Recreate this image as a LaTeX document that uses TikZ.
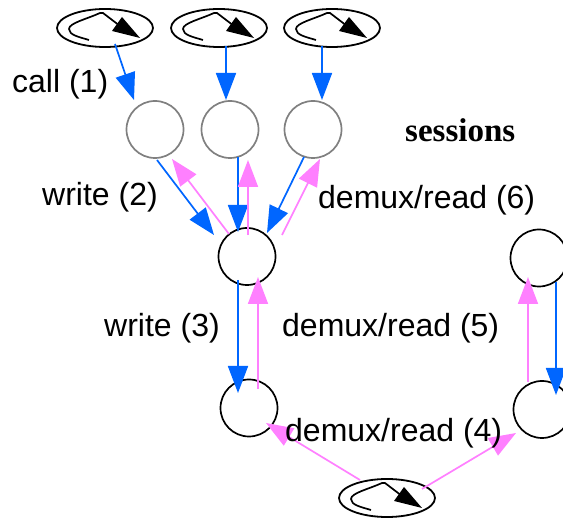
\documentclass[tikz,border=0pt]{standalone}
\usepackage{fontspec}
\setmainfont{Liberation Sans}
\newfontfamily\sessfont{Liberation Serif}
\usetikzlibrary{arrows.meta,shapes.geometric}
\definecolor{flowblue}{HTML}{0066FF}
\definecolor{flowpink}{HTML}{FF80FF}
\tikzset{
  x=1pt,y=-1pt,
  sess/.style={circle,draw=gray,line width=1.7pt,minimum size=57pt,inner sep=0pt},
  sock/.style={circle,draw=black,line width=1.7pt,minimum size=57pt,inner sep=0pt},
  proc/.style={ellipse,draw=black,line width=1.8pt,minimum width=96pt,minimum height=38pt,inner sep=0pt},
  lbl/.style={font=\fontsize{32}{36}\selectfont,inner sep=0pt},
  bluearr/.style={draw=flowblue,line width=1.7pt,-{Triangle[length=27pt,width=20pt,fill=flowblue]}},
  pinkarr/.style={draw=flowpink,line width=1.7pt,-{Triangle[length=27pt,width=20pt,fill=flowpink]}},
  loopmark/.pic={
    \draw[line width=1.7pt,line join=round] (-16,12) .. controls (-26,9) and (-36,7) .. (-36,1) .. controls (-36,-5) and (-18,-9) .. (-5,-15) -- (-2,-15) -- (15,-2);
    \fill (35,10) -- (7,3) -- (12,-4) -- (17,-11) -- cycle;
  }
}
\begin{document}
\begin{tikzpicture}
\useasboundingbox (0,0) rectangle (563,521);
\clip (0,0) rectangle (563,521);
\fill[white] (0,0) rectangle (563,521);
% nodes
\node[proc] (e1) at (105,28) {};
\node[proc] (e2) at (219,28) {};
\node[proc] (e3) at (332,28) {};
\node[proc] (e4) at (387,498) {};
\pic at (e1.center) {loopmark};
\pic at (e2.center) {loopmark};
\pic at (e3.center) {loopmark};
\pic at (e4.center) {loopmark};
\node[sess] (s1) at (155,129.5) {};
\node[sess] (s2) at (230,129.5) {};
\node[sess] (s3) at (313,129.5) {};
\node[sock] (c) at (247,256.5) {};
\node[sock] (bl) at (249,408) {};
\node[sock] (tr) at (539,258) {};
\node[sock] (br) at (542,409.5) {};
% connectors
\draw[bluearr] ([shift={(10,16)}]e1.center) -- ([shift={(-21,-29.5)}]s1.center);
\draw[bluearr] ([shift={(7,18)}]e2.center) -- ([shift={(-4,-29.5)}]s2.center);
\draw[bluearr] ([shift={(-10,18)}]e3.center) -- ([shift={(9,-29.5)}]s3.center);
\draw[bluearr] ([shift={(2,30.5)}]s1.center) -- ([shift={(-33,-21.5)}]c.center);
\draw[pinkarr] ([shift={(-18,-22.5)}]c.center) -- ([shift={(17,29.5)}]s1.center);
\draw[bluearr] ([shift={(8,27.5)}]s2.center) -- ([shift={(-9,-24.5)}]c.center);
\draw[pinkarr] ([shift={(1,-21.5)}]c.center) -- ([shift={(18,30.5)}]s2.center);
\draw[bluearr] ([shift={(-9,27.5)}]s3.center) -- ([shift={(20,-23.5)}]c.center);
\draw[pinkarr] ([shift={(35,-21.5)}]c.center) -- ([shift={(7,29.5)}]s3.center);
\draw[bluearr] ([shift={(-9,23.5)}]c.center) -- ([shift={(-11,-15)}]bl.center);
\draw[pinkarr] ([shift={(9,-19)}]bl.center) -- ([shift={(11,20.5)}]c.center);
\draw[pinkarr] ([shift={(-14,-27.5)}]br.center) -- ([shift={(-11,19)}]tr.center);
\draw[bluearr] ([shift={(17,24)}]tr.center) -- ([shift={(14,-14.5)}]br.center);
\draw[pinkarr] ([shift={(-27,-18)}]e4.center) -- ([shift={(17,15)}]bl.center);
\draw[pinkarr] ([shift={(35,-9)}]e4.center) -- ([shift={(-26,23.5)}]br.center);
% labels
\node[lbl,anchor=west] (l1) at (12,84) {call (1)};
\node[lbl,anchor=west] (l2) at (42,197) {write (2)};
\node[lbl,anchor=west] (l6) at (318,200) {demux/read (6)};
\node[lbl,anchor=west] (l3) at (104,328) {write (3)};
\node[lbl,anchor=west] (l5) at (282,328) {demux/read (5)};
\node[lbl,anchor=west] (l4) at (285,433) {demux/read (4)};
\node[anchor=west,inner sep=0pt,font=\sessfont\bfseries\fontsize{33}{36}\selectfont] (st) at (405,130) {sessions};
\end{tikzpicture}
\end{document}
